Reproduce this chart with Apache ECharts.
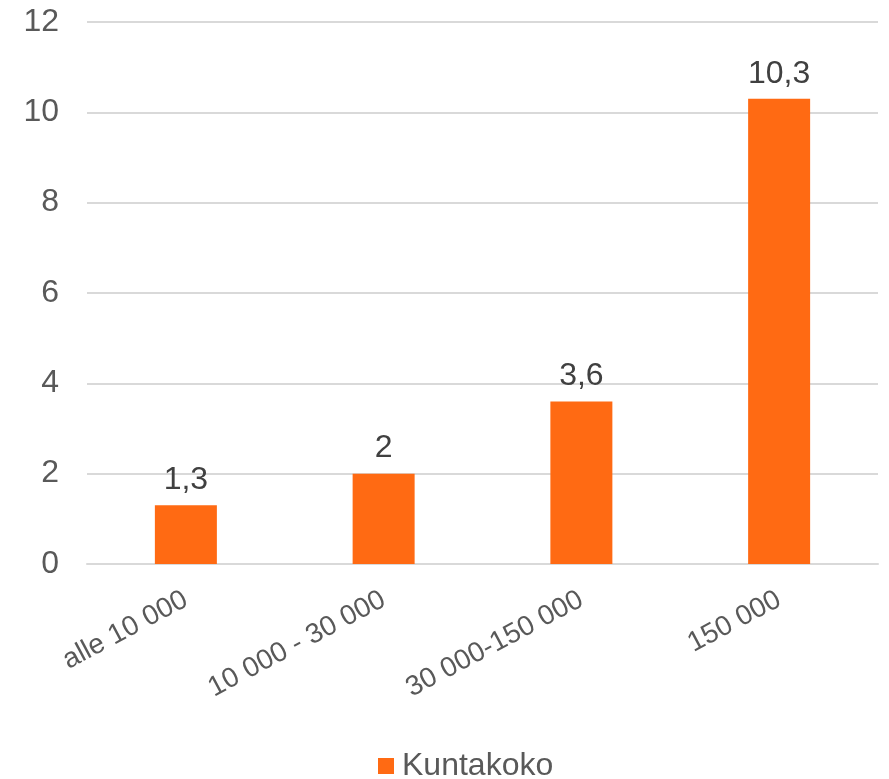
<!DOCTYPE html>
<html><head><meta charset="utf-8">
<script src="https://cdn.jsdelivr.net/npm/echarts@6/dist/echarts.min.js"></script>
<style>html,body{margin:0;padding:0;background:#fff}#c{width:889px;height:779px}</style>
</head><body><div id="c"></div>
<script>
const categories = ['alle 10 000', '10 000 - 30 000', '30 000-150 000', '150 000'];
const values = [1.3, 2, 3.6, 10.3];
const seriesName = 'Kuntakoko';
const yTicks = { min: 0, max: 12, interval: 2 };

const FONT = 'Liberation Sans, Arial, sans-serif';
const FS = 32;
const chart = echarts.init(document.getElementById('c'), null, { renderer: 'canvas' });
chart.setOption({
  animation: false,
  textStyle: { fontFamily: FONT },
  grid: { left: 87, right: 11, top: 22, bottom: 215, containLabel: false },
  legend: {
    data: [seriesName], top: 750, left: 378, itemWidth: 16, itemHeight: 16, itemGap: 6,
    icon: 'rect', padding: 0,
    textStyle: { fontSize: FS, color: '#595959', fontFamily: FONT, padding: [0, 0, 0, 3] }
  },
  xAxis: {
    type: 'category', data: categories,
    axisLine: { show: true, lineStyle: { color: '#d9d9d9', width: 2 } },
    axisTick: { show: false },
    axisLabel: { rotate: 28, fontSize: 28, color: '#595959', margin: 34, fontFamily: FONT }
  },
  yAxis: {
    type: 'value', min: yTicks.min, max: yTicks.max, interval: yTicks.interval,
    axisLine: { show: false }, axisTick: { show: false },
    splitLine: { lineStyle: { color: '#d9d9d9', width: 2 } },
    axisLabel: { fontSize: FS, color: '#595959', margin: 28, fontFamily: FONT }
  },
  series: [{
    name: seriesName, type: 'bar', data: values, barWidth: 62,
    itemStyle: { color: '#FF6A13' },
    label: {
      show: true, position: 'top', distance: 9, fontSize: FS, color: '#404040', fontFamily: FONT,
      formatter: p => String(p.value).replace('.', ',')
    }
  }]
});
</script></body></html>
